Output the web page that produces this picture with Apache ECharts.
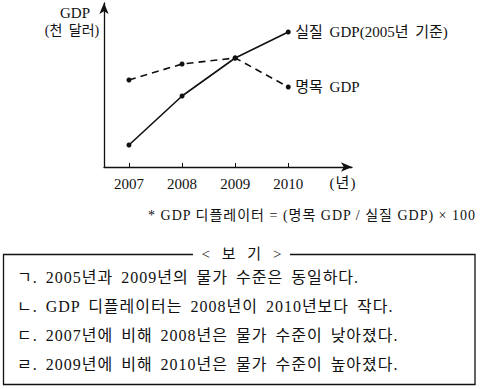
<!DOCTYPE html>
<html>
<head>
<meta charset="utf-8">
<script src="https://cdn.jsdelivr.net/npm/echarts@6/dist/echarts.min.js"></script>
<style>
html,body{margin:0;padding:0;background:#fff;}
#c{width:480px;height:389px;}
#c text[style*="kwide"]{letter-spacing:1px;word-spacing:3px;}
#c text[style*="ktitle"]{letter-spacing:1px;word-spacing:6px;}
#c text[style*="klab"]{word-spacing:3px;}
#c text[style*="kfoot"]{letter-spacing:1px;}
</style>
</head>
<body>
<div id="c"></div>
<script>
const years = [2007, 2008, 2009, 2010];
const realGDP = [22, 71, 109, 135];
const nominalGDP = [87, 103, 109, 80];
const realLabel = '실질 GDP(2005년 기준)';
const nominalLabel = '명목 GDP';
const yName1 = 'GDP';
const yName2 = '(천 달러)';
const xUnit = '(년)';
const footnote = '* GDP 디플레이터 = (명목 GDP / 실질 GDP) × 100';
const boxTitle = '< 보 기 >';
const boxItems = [
  'ㄱ. 2005년과 2009년의 물가 수준은 동일하다.',
  'ㄴ. GDP 디플레이터는 2008년이 2010년보다 작다.',
  'ㄷ. 2007년에 비해 2008년은 물가 수준이 낮아졌다.',
  'ㄹ. 2009년에 비해 2010년은 물가 수준이 높아졌다.'
];

const FAM = 'Liberation Serif, Noto Sans CJK KR, serif';
const WIDE = 'kwide, ' + FAM;
const TITLE = 'ktitle, ' + FAM;
const LAB = 'klab, ' + FAM;
const FOOT = 'kfoot, ' + FAM;
const chart = echarts.init(document.getElementById('c'), null, {renderer: 'svg'});

const itemGraphics = boxItems.map((t, i) => ({
  type: 'text', x: 17, y: 277 + i * 29,
  style: {text: t, fontSize: 16, fontFamily: WIDE, fill: '#111', verticalAlign: 'middle'}
}));

chart.setOption({
  animation: false,
  backgroundColor: '#fff',
  grid: {left: 104, right: 128, top: 3, bottom: 222, containLabel: false},
  xAxis: {
    type: 'value', min: 2006.53, max: 2011.2,
    axisLine: {show: true, lineStyle: {color: '#111', width: 1.3}, symbol: ['none', 'arrow'], symbolSize: [7, 11]},
    axisTick: {show: true, inside: true, length: 4, customValues: years, lineStyle: {color: '#111'}},
    axisLabel: {show: true, customValues: years, color: '#111', fontSize: 15, fontFamily: FAM, margin: 9,
      formatter: v => String(v)},
    splitLine: {show: false}
  },
  yAxis: {
    type: 'value', min: 0, max: 164,
    axisLine: {show: true, lineStyle: {color: '#111', width: 1.3}, symbol: ['none', 'arrow'], symbolSize: [7, 11]},
    axisTick: {show: false}, axisLabel: {show: false}, splitLine: {show: false}
  },
  graphic: [
    {type: 'text', x: 75, y: 13, style: {text: yName1, fontSize: 15, fontFamily: FAM, fill: '#111', align: 'center', verticalAlign: 'middle'}},
    {type: 'text', x: 72, y: 30, style: {text: yName2, fontSize: 14, fontFamily: LAB, fill: '#111', align: 'center', verticalAlign: 'middle'}},
    {type: 'text', x: 343, y: 183, style: {text: xUnit, fontSize: 15, fontFamily: WIDE, fill: '#111', align: 'center', verticalAlign: 'middle'}},
    {type: 'text', x: 476, y: 215, style: {text: footnote, fontSize: 14, fontFamily: FOOT, fill: '#111', align: 'right', verticalAlign: 'middle'}},
    {type: 'polyline', shape: {points: [[193, 254.5], [3.5, 254.5], [3.5, 384.5], [475, 384.5], [475, 254.5], [290, 254.5]]},
      style: {stroke: '#111', lineWidth: 1.3, fill: null}},
    {type: 'text', x: 242, y: 254, style: {text: boxTitle, fontSize: 15, fontFamily: TITLE, fill: '#111', align: 'center', verticalAlign: 'middle'}},
    ...itemGraphics
  ],
  series: [
    {
      type: 'line', data: years.map((y, i) => [y, realGDP[i]]),
      symbol: 'circle', symbolSize: 5, itemStyle: {color: '#111'},
      lineStyle: {color: '#111', width: 1.6, type: 'solid'},
      endLabel: {show: true, formatter: () => realLabel, color: '#111', fontSize: 15, fontFamily: LAB, distance: 7}
    },
    {
      type: 'line', data: years.map((y, i) => [y, nominalGDP[i]]),
      symbol: 'circle', symbolSize: 5, itemStyle: {color: '#111'},
      lineStyle: {color: '#111', width: 1.6, type: [7, 5]},
      endLabel: {show: true, formatter: () => nominalLabel, color: '#111', fontSize: 15, fontFamily: LAB, distance: 7}
    }
  ]
});
</script>
</body>
</html>
